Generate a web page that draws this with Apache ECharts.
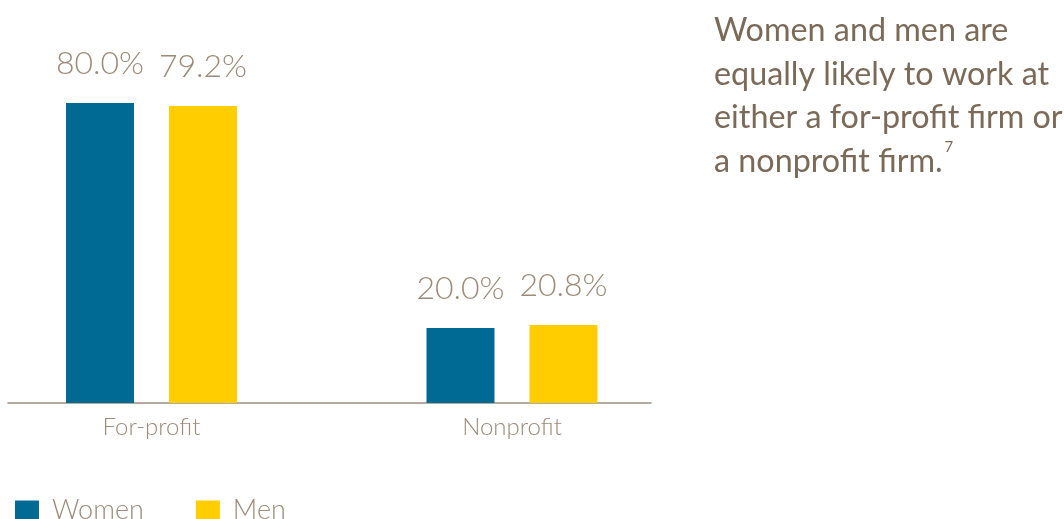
<!DOCTYPE html>
<html><head><meta charset="utf-8">
<script src="https://cdn.jsdelivr.net/npm/echarts@6/dist/echarts.min.js"></script>
<style>html,body{margin:0;padding:0;background:#fff}#c{width:1064px;height:519px}</style>
</head><body><div id="c"></div>
<script>
const categories = ['For-profit', 'Nonprofit'];
const women = [80.0, 20.0];
const men = [79.2, 20.8];
const seriesNames = ['Women', 'Men'];

const chart = echarts.init(document.getElementById('c'));
const FONT = 'Lato';
const labelStyle = {
  show: true, position: 'top', distance: 23,
  fontFamily: FONT, fontWeight: 300, fontSize: 32, color: '#9b8b78',
  formatter: p => p.value.toFixed(1) + '%'
};
chart.setOption({
  animation: false,
  title: {
    left: 709, top: 4,
    text: 'Women and men are\nequally likely to work at\neither a for-profit firm or\na nonprofit firm.{sup|7}',
    textStyle: {
      fontFamily: FONT, fontSize: 32.3, fontWeight: 400, color: '#7a6a57', lineHeight: 43.5,
      rich: { sup: { fontSize: 15, verticalAlign: 'top', color: '#7a6a57', fontFamily: FONT, padding: [0,0,8,2] } }
    }
  },
  legend: {
    left: 10, top: 492, itemWidth: 24, itemHeight: 20, itemGap: 52, icon: 'rect',
    textStyle: { fontFamily: FONT, fontWeight: 300, fontSize: 27, color: '#9b8b78', padding: [0,0,0,8] },
    data: seriesNames
  },
  grid: [
    { left: -28.75, width: 721, top: 28, bottom: 116, containLabel: false, outerBoundsMode: 'none' },
    { left: 8, right: 413, top: 28, bottom: 116, containLabel: false, outerBoundsMode: 'none' }
  ],
  xAxis: [
    { type: 'category', data: categories, gridIndex: 0,
      axisLine: { show: false }, axisTick: { show: false },
      axisLabel: { fontFamily: FONT, fontWeight: 300, fontSize: 24, color: '#9b8b78', margin: 12 } },
    { type: 'value', gridIndex: 1, min: 0, max: 1,
      axisLine: { show: true, lineStyle: { color: '#9c8f80', width: 1.5 } },
      axisTick: { show: false }, axisLabel: { show: false }, splitLine: { show: false } }
  ],
  yAxis: [
    { type: 'value', gridIndex: 0, min: 0, max: 100, show: false },
    { type: 'value', gridIndex: 1, min: 0, max: 100, show: false }
  ],
  series: [
    { name: seriesNames[0], type: 'bar', data: women, barWidth: 68, barGap: '51.5%',
      itemStyle: { color: '#006a94' }, label: labelStyle, z: 1 },
    { name: seriesNames[1], type: 'bar', data: men, barWidth: 68, barGap: '51.5%',
      itemStyle: { color: '#ffcd00' }, label: labelStyle, z: 1 }
  ]
});
</script></body></html>
